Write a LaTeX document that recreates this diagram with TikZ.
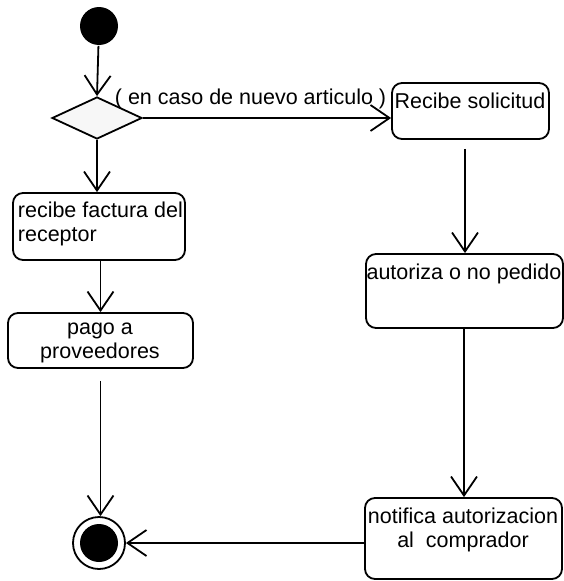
\documentclass[tikz,border=0pt]{standalone}
\usepackage{fontspec}
\setmainfont{Liberation Sans}
\usetikzlibrary{arrows.meta,shapes.geometric}
\begin{document}
\begin{tikzpicture}[x=1pt,y=-1pt,
  font=\fontsize{21.5}{23.5}\selectfont,
  every path/.style={line width=1.8pt},
  act/.style={draw, rounded corners=10pt, inner sep=0pt},
  lbl/.style={inner sep=0pt, align=center},
  flow/.style={draw, -{Straight Barb[length=19pt,width=26pt,line width=1.8pt]}},
]
\useasboundingbox (0,0) rectangle (564,581);

% initial and final states
\node[circle, fill=black, minimum size=38pt, inner sep=0pt] (start) at (99,26) {};
\node[circle, draw, line width=1.8pt, minimum size=52pt, inner sep=0pt] (stop) at (99,543) {};
\node[circle, fill=black, minimum size=38pt, inner sep=0pt] (stopdot) at (99,543) {};

% decision
\node[diamond, draw, fill=gray!6, minimum width=90pt, minimum height=42pt, inner sep=0pt] (dec) at (97,118) {};
\node[lbl, anchor=west] (guard) at (114,99) {( en caso de nuevo articulo )};

% activities
\node[act, minimum width=157pt, minimum height=56pt] (recibe) at (470.5,111) {};
\node[lbl] (recibeT) at (470,101) {Recibe solicitud};

\node[act, minimum width=197pt, minimum height=74pt] (autoriza) at (464.5,291) {};
\node[lbl] (autorizaT) at (464,274) {autoriza o no pedido};

\node[act, minimum width=197pt, minimum height=81pt] (notifica) at (463.5,538.5) {};
\node[lbl] (notificaT) at (463,530) {notifica autorizacion\\al\ \ comprador};

\node[act, minimum width=172pt, minimum height=67pt] (factura) at (99,226.5) {};
\node[lbl, align=left, anchor=west] (facturaT) at (17,224) {recibe factura del\\receptor};

\node[act, minimum width=185pt, minimum height=55pt] (pago) at (100.5,340.5) {};
\node[lbl] (pagoT) at (100,343) {pago a\\proveedores};

% transitions
\draw[flow] (start) -- (dec.north);
\draw[flow] (dec.east) -- (dec.east -| recibe.west);
\draw[flow] (dec.south) -- (dec.south |- factura.north);
\draw[flow] (factura.south -| pago.north) -- (pago.north);
\draw[flow, shorten <=12pt] (pago.south) -- (stop.north -| pago.south);
\draw[flow, shorten <=9pt] (recibe.south -| 465,0) -- (autoriza.north -| 465,0);
\draw[flow] (autoriza.south -| 464,0) -- (notifica.north -| 464,0);
\draw[flow] (notifica.west |- stop.east) -- (stop.east);
\end{tikzpicture}
\end{document}
